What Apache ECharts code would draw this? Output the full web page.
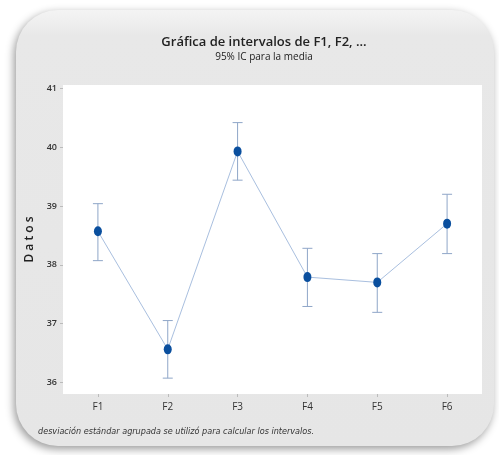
<!DOCTYPE html>
<html><head><meta charset="utf-8">
<script src="https://cdn.jsdelivr.net/npm/echarts@6/dist/echarts.min.js"></script>
<style>html,body{margin:0;padding:0;background:#fff}#c{width:499px;height:455px}</style>
</head><body><div id="c"></div>
<script>
var categories = ['F1','F2','F3','F4','F5','F6'];
var means = [38.57, 36.56, 39.93, 37.79, 37.70, 38.70];
var lower = [38.07, 36.07, 39.44, 37.29, 37.19, 38.19];
var upper = [39.04, 37.05, 40.42, 38.28, 38.19, 39.20];
var yTicks = [36, 37, 38, 39, 40, 41];

var chart = echarts.init(document.getElementById('c'));
var font = 'Open Sans';
chart.setOption({
  animation: false,
  backgroundColor: '#ffffff',
  graphic: [{
    type: 'rect', z: -10, silent: true,
    shape: {x: 16, y: 10, width: 478, height: 436, r: 42},
    style: {
      fill: new echarts.graphic.LinearGradient(0, 0, 0, 1, [
        {offset: 0, color: '#f4f4f4'}, {offset: 0.06, color: '#e8e8e8'}, {offset: 1, color: '#e6e6e6'}]),
      shadowBlur: 8, shadowColor: 'rgba(0,0,0,0.4)', shadowOffsetX: -2, shadowOffsetY: 3
    }
  }, {
    type: 'text', left: 38, top: 427, silent: true,
    style: {text: 'desviación estándar agrupada se utilizó para calcular los intervalos.',
      font: 'italic 9px "Liberation Sans Narrow", "DejaVu Sans Condensed", sans-serif', fill: '#333'}
  }],
  title: {
    text: 'Gráfica de intervalos de F1, F2, ...',
    subtext: '95% IC para la media',
    left: 259, textAlign: 'center', top: 31, itemGap: 3,
    textStyle: {fontFamily: font, fontSize: 13, fontWeight: 600, color: '#222'},
    subtextStyle: {fontFamily: font, fontSize: 10, color: '#222'}
  },
  grid: {left: 63, top: 85, right: 17, bottom: 61, show: true, backgroundColor: '#ffffff', borderWidth: 0},
  xAxis: {
    type: 'category', data: categories, boundaryGap: true,
    axisLine: {show: false},
    axisTick: {show: true, alignWithLabel: true, length: 3, lineStyle: {color: '#bbb'}},
    axisLabel: {fontFamily: font, fontSize: 10, color: '#333', margin: 8}
  },
  yAxis: {
    type: 'value', min: 35.8, max: 41.06,
    name: 'D a t o s', nameLocation: 'middle', nameGap: 26,
    nameTextStyle: {fontFamily: font, fontSize: 12, fontWeight: 600, color: '#222'},
    axisLine: {show: false}, splitLine: {show: false},
    axisTick: {show: true, length: 3, lineStyle: {color: '#bbb'}, customValues: yTicks},
    axisLabel: {fontFamily: font, fontSize: 9, fontWeight: 600, color: '#333', margin: 6,
      customValues: yTicks}
  },
  series: [{
    type: 'custom', z: 1,
    renderItem: function(params, api) {
      var lo = api.coord([api.value(0), api.value(1)]);
      var hi = api.coord([api.value(0), api.value(2)]);
      var hw = 5;
      var st = {stroke: '#8fa6c8', lineWidth: 1};
      return {type: 'group', children: [
        {type: 'line', shape: {x1: lo[0], y1: lo[1], x2: hi[0], y2: hi[1]}, style: st},
        {type: 'line', shape: {x1: lo[0]-hw, y1: lo[1], x2: lo[0]+hw, y2: lo[1]}, style: st},
        {type: 'line', shape: {x1: hi[0]-hw, y1: hi[1], x2: hi[0]+hw, y2: hi[1]}, style: st}
      ]};
    },
    data: categories.map(function(c, i){ return [i, lower[i], upper[i]]; })
  }, {
    type: 'line', data: means, z: 2,
    lineStyle: {color: '#a9bfdf', width: 1},
    symbol: 'circle', symbolSize: [8, 10],
    itemStyle: {color: '#0a4f9e'}
  }]
});
</script></body></html>
